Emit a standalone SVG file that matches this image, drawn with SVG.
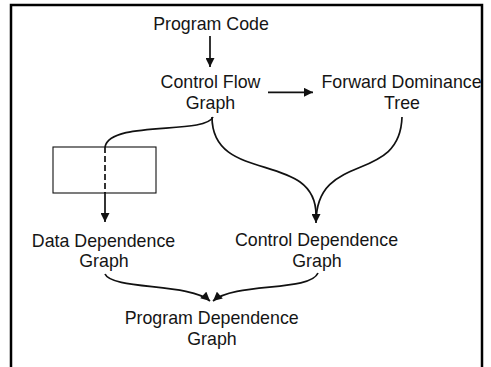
<svg xmlns="http://www.w3.org/2000/svg" width="491" height="367" viewBox="0 0 491 367">
  <style>
    .lbl { font-family: "Liberation Sans", Arial, sans-serif; font-size: 17.8px; fill: #151515; text-anchor: middle; }
    .edge { fill: none; stroke: #111; stroke-width: 1.7; }
    .frame { fill: none; stroke: #000; stroke-width: 2.5; }
  </style>
  <defs>
    <marker id="arrow" viewBox="0 0 10 10" refX="10" refY="5" markerUnits="userSpaceOnUse" markerWidth="10" markerHeight="9" orient="auto">
      <path d="M0,0 L10,5 L0,10 z" fill="#111"/>
    </marker>
  </defs>

  <rect width="491" height="367" fill="#fff"/>
  <!-- open frame: left, top and right sides -->
  <path class="frame" d="M11,367 V5 H482 V367"/>

  <g id="program-code">
    <text class="lbl" x="211" y="30">Program Code</text>
  </g>
  <g id="control-flow-graph">
    <text class="lbl" x="210.5" y="88">Control Flow</text>
    <text class="lbl" x="210.5" y="109">Graph</text>
  </g>
  <g id="forward-dominance-tree">
    <text class="lbl" x="401.5" y="88">Forward Dominance</text>
    <text class="lbl" x="402" y="109">Tree</text>
  </g>
  <g id="filter-box">
    <rect x="53" y="147" width="103" height="46" fill="none" stroke="#111" stroke-width="1.1"/>
  </g>
  <g id="data-dependence-graph">
    <text class="lbl" x="103.5" y="246.5">Data Dependence</text>
    <text class="lbl" x="104" y="266.5">Graph</text>
  </g>
  <g id="control-dependence-graph">
    <text class="lbl" x="316.5" y="246">Control Dependence</text>
    <text class="lbl" x="317" y="266.5">Graph</text>
  </g>
  <g id="program-dependence-graph">
    <text class="lbl" x="211.7" y="324.3">Program Dependence</text>
    <text class="lbl" x="212" y="345">Graph</text>
  </g>

  <g id="connectors">
    <!-- Program Code -> Control Flow Graph -->
    <path class="edge" d="M210,36 V67" marker-end="url(#arrow)"/>
    <!-- Control Flow Graph -> Forward Dominance Tree -->
    <path class="edge" d="M268,92.3 H313" marker-end="url(#arrow)"/>
    <!-- Control Flow Graph -> box (curve), dashed through box, then down -->
    <path class="edge" d="M213,117 C205,135 110,120 105,147"/>
    <path class="edge" d="M105,147 V193" stroke-dasharray="6 3"/>
    <path class="edge" d="M105,192 V222" marker-end="url(#arrow)"/>
    <!-- Control Flow Graph and Forward Dominance Tree -> Control Dependence Graph -->
    <path class="edge" d="M212,117 C212,185 316,150 316,215"/>
    <path class="edge" d="M402,117 C400,185 316,150 316,223" marker-end="url(#arrow)"/>
    <!-- Data / Control Dependence Graphs -> Program Dependence Graph -->
    <path class="edge" d="M105,274 C112,290 190,283 210,301" marker-end="url(#arrow)"/>
    <path class="edge" d="M318,273 C310,292 235,282 213,301" marker-end="url(#arrow)"/>
  </g>
</svg>
